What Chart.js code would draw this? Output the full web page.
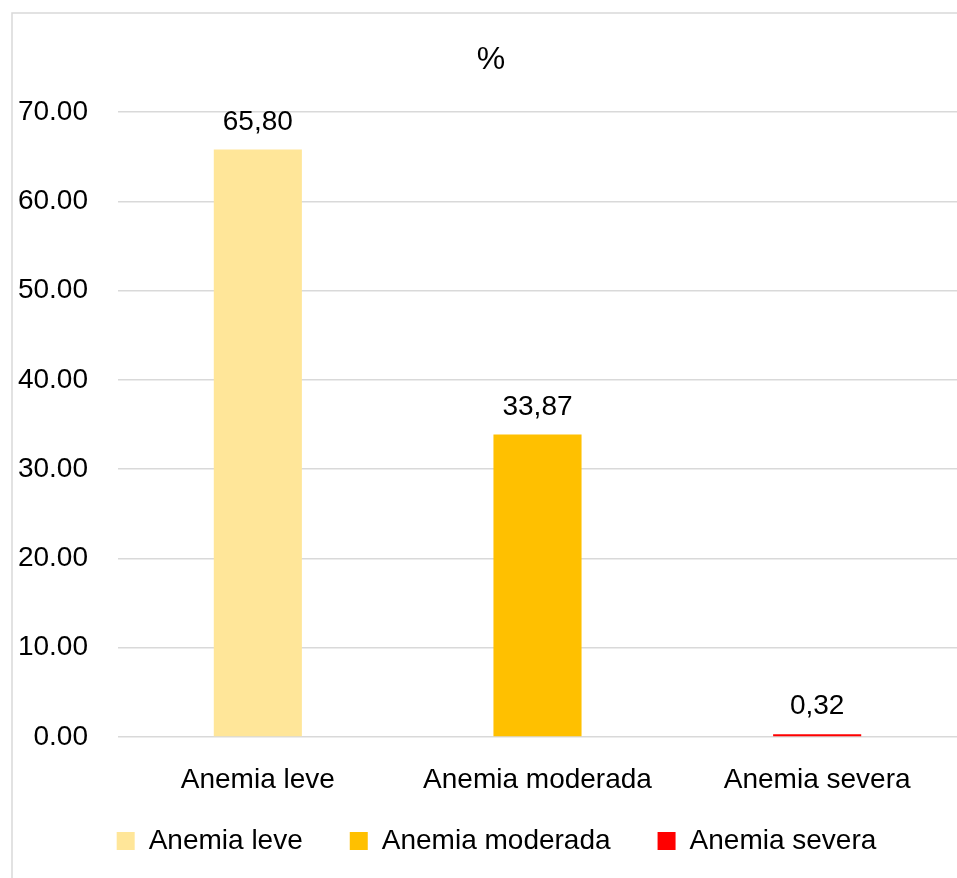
<!DOCTYPE html>
<html>
<head>
<meta charset="utf-8">
<script src="https://cdn.jsdelivr.net/npm/chart.js@4.4.0/dist/chart.umd.min.js"></script>
<style>
html,body{margin:0;padding:0;background:#fff;overflow:hidden}
#wrap{width:957px;height:878px;position:relative}
</style>
</head>
<body>
<div id="wrap"><canvas id="c" width="957" height="878"></canvas></div>
<script>
const categories = ['Anemia leve', 'Anemia moderada', 'Anemia severa'];
const values = [65.80, 33.87, 0.32];
const colors = ['#FFE699', '#FFC000', '#FF0000'];
const yMin = 0;
const yMax = 70;
const yStep = 10;
const titleText = '%';

const FONT = '"Liberation Sans", Arial, sans-serif';
Chart.defaults.font.family = FONT;
Chart.defaults.color = '#000';

const framePlugin = {
  id: 'frame',
  beforeDraw(chart) {
    const ctx = chart.ctx;
    ctx.save();
    ctx.strokeStyle = '#d9d9d9';
    ctx.lineWidth = 1.5;
    ctx.beginPath();
    ctx.moveTo(12, chart.height);
    ctx.lineTo(12, 13);
    ctx.lineTo(chart.width, 13);
    ctx.stroke();
    ctx.restore();
  }
};

const valueLabels = {
  id: 'valueLabels',
  afterDatasetsDraw(chart) {
    const ctx = chart.ctx;
    const meta = chart.getDatasetMeta(0);
    ctx.save();
    ctx.font = '28px ' + FONT;
    ctx.fillStyle = '#000';
    ctx.textAlign = 'center';
    ctx.textBaseline = 'alphabetic';
    meta.data.forEach((el, i) => {
      ctx.fillText(values[i].toFixed(2).replace('.', ','), el.x, el.y - 20);
    });
    ctx.restore();
  }
};

const blockShift = {
  id: 'blockShift',
  afterLayout(chart) {
    if (chart.legend) { chart.legend.left = 36; chart.legend.top = 780; }
    if (chart.titleBlock) { chart.titleBlock.left = 25; }
  }
};

new Chart(document.getElementById('c'), {
  type: 'bar',
  data: {
    labels: categories,
    datasets: [{
      label: titleText,
      data: values,
      backgroundColor: colors,
      borderWidth: 0,
      barPercentage: 0.315,
      categoryPercentage: 1
    }]
  },
  options: {
    responsive: false,
    animation: false,
    devicePixelRatio: 1,
    layout: { padding: { left: 12, top: 13, right: 0, bottom: 0 } },
    scales: {
      y: {
        min: yMin,
        max: yMax,
        ticks: {
          stepSize: yStep,
          padding: 30,
          font: { size: 28 },
          color: '#000',
          callback: v => Number(v).toFixed(2)
        },
        grid: { color: '#d9d9d9', lineWidth: 1.5, drawTicks: false },
        border: { display: false },
        afterFit(s) { s.width = 106; }
      },
      x: {
        ticks: { padding: 26, font: { size: 28 }, color: '#000' },
        grid: { display: false, drawTicks: false },
        border: { display: false },
        afterFit(s) { s.height = 60; }
      }
    },
    plugins: {
      title: {
        display: true,
        text: titleText,
        color: '#000',
        font: { size: 32, weight: 'normal' },
        padding: { top: 28, bottom: 32.6 }
      },
      legend: {
        position: 'bottom',
        onClick: null,
        maxHeight: 81,
        labels: {
          boxWidth: 18,
          boxHeight: 18,
          padding: 47,
          color: '#000',
          font: { size: 28 },
          generateLabels(chart) {
            return categories.map((c, i) => ({
              text: c,
              fillStyle: colors[i],
              strokeStyle: colors[i],
              lineWidth: 0,
              hidden: false,
              index: i
            }));
          }
        }
      },
      tooltip: { enabled: false }
    }
  },
  plugins: [framePlugin, valueLabels, blockShift]
});
</script>
</body>
</html>
